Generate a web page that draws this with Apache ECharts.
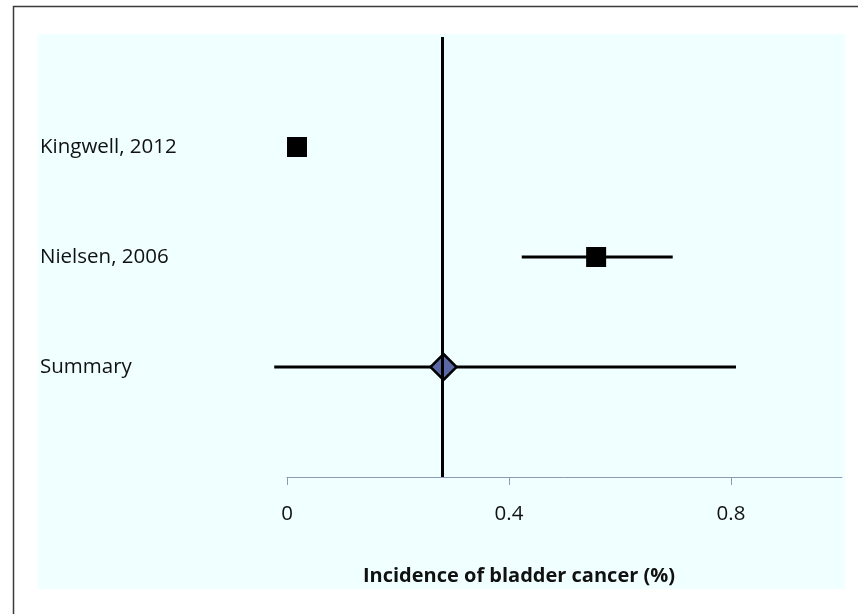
<!DOCTYPE html>
<html><head><meta charset="utf-8">
<script src="https://cdn.jsdelivr.net/npm/echarts@6/dist/echarts.min.js"></script>
<style>html,body{margin:0;padding:0;background:#fff}#c{width:858px;height:614px}</style>
</head><body><div id="c"></div>
<script>
const studies = ['Kingwell, 2012', 'Nielsen, 2006', 'Summary'];
const estimates = [0.018, 0.557, 0.282];
const lowerCI = [null, 0.423, -0.023];
const upperCI = [null, 0.695, 0.809];
const summaryLine = 0.28;
const xTicks = [0, 0.4, 0.8];
const xName = 'Incidence of bladder cancer (%)';

const FONT = 'Open Sans';
const rowY = studies.map((s, i) => studies.length - i);
const yLabelMap = {};
studies.forEach((s, i) => { yLabelMap[rowY[i]] = s; });

const studyPts = [], summaryPts = [], bars = [];
studies.forEach((s, i) => {
  if (s === 'Summary') summaryPts.push([estimates[i], rowY[i]]);
  else studyPts.push([estimates[i], rowY[i]]);
  if (lowerCI[i] !== null) bars.push([lowerCI[i], upperCI[i], rowY[i]]);
});

const chart = echarts.init(document.getElementById('c'), null, {renderer: 'canvas'});
chart.setOption({
  animation: false,
  backgroundColor: '#fff',
  graphic: [
    {type: 'rect', z: -10, shape: {x: 38, y: 34, width: 807, height: 555}, style: {fill: '#F0FFFF'}},
    {type: 'rect', z: -9, shape: {x: 13.5, y: 6.5, width: 900, height: 700}, style: {fill: 'none', stroke: '#3a3a3a', lineWidth: 1.5}}
  ],
  title: {
    text: xName, left: 514, top: 561, textAlign: 'center',
    textStyle: {fontFamily: FONT, fontSize: 20, fontWeight: 'bold', color: '#111'}
  },
  grid: {left: 287, right: 16, top: 37, bottom: 137},
  xAxis: {
    type: 'value', min: 0, max: 1, interval: 0.4,
    axisLine: {show: true, onZero: false, lineStyle: {color: '#8a9ab0', width: 1}},
    axisTick: {show: true, length: 8, customValues: xTicks, lineStyle: {color: '#8a9ab0'}},
    axisLabel: {customValues: xTicks, margin: 27, fontFamily: FONT, fontSize: 20.5, color: '#111',
      formatter: v => String(v)},
    splitLine: {show: false}
  },
  yAxis: {
    type: 'value', min: 0, max: 4, interval: 1,
    axisLine: {show: false}, axisTick: {show: false}, splitLine: {show: false},
    axisLabel: {align: 'left', margin: 247, fontFamily: FONT, fontSize: 20.5, color: '#111',
      padding: [6, 0, 0, 0],
      formatter: v => yLabelMap[v] || ''}
  },
  series: [
    {
      type: 'custom', clip: false, z: 2,
      data: bars,
      renderItem: (params, api) => {
        const a = api.coord([api.value(0), api.value(2)]);
        const b = api.coord([api.value(1), api.value(2)]);
        return {type: 'line', shape: {x1: a[0], y1: a[1], x2: b[0], y2: b[1]},
          style: {stroke: '#000', lineWidth: 3}};
      }
    },
    {
      type: 'scatter', z: 3, symbol: 'rect', symbolSize: 20,
      itemStyle: {color: '#000', opacity: 1},
      data: studyPts,
      markLine: {
        silent: true, symbol: 'none', label: {show: false},
        lineStyle: {color: '#000', width: 3, type: 'solid'},
        data: [{xAxis: summaryLine}]
      }
    },
    {
      type: 'scatter', z: 4, symbol: 'diamond', symbolSize: [26, 26],
      itemStyle: {color: '#5a68a6', borderColor: '#000', borderWidth: 2.5, opacity: 1},
      data: summaryPts
    }
  ]
});
</script></body></html>
